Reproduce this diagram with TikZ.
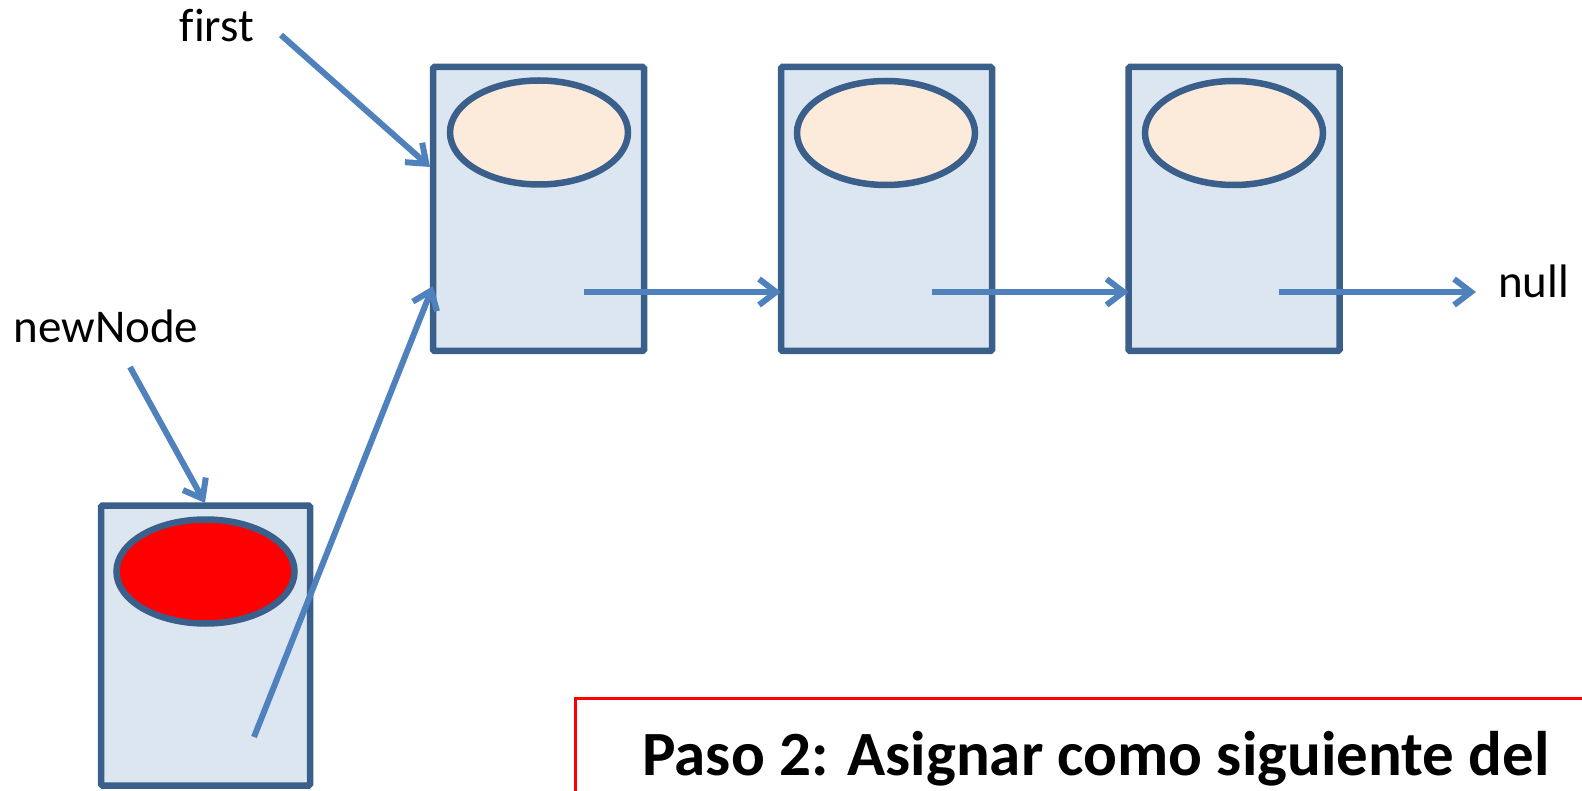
\documentclass[tikz,border=0pt]{standalone}
\usepackage{fontspec}
\setmainfont{Carlito}[Ligatures=NoCommon]
\usetikzlibrary{arrows.meta,shapes.geometric,calc}
\definecolor{boxline}{HTML}{3A5F8B}
\definecolor{boxfill}{HTML}{DCE6F1}
\definecolor{datafill}{HTML}{FCEADA}
\definecolor{arrowc}{HTML}{4F81BD}
\tikzset{
  listnode/.style={draw=boxline, fill=boxfill, line width=6.5pt, rounded corners=1.5pt,
    minimum width=211pt, minimum height=284pt, inner sep=0pt, outer sep=0pt},
  datafield/.style={ellipse, draw=boxline, fill=datafill, line width=6.5pt,
    minimum width=178pt, minimum height=104pt, inner sep=0pt, outer sep=0pt},
  label/.style={font=\fontsize{47}{55}\selectfont, inner sep=0pt},
  ptr/.style={draw=arrowc, line width=6pt, -{Straight Barb[length=17pt,width=26pt]}},
}
\begin{document}
\begin{tikzpicture}[x=1pt,y=-1pt]
\useasboundingbox (0,0) rectangle (1582,791);
% list nodes
\node[listnode] (b1) at (538.5,209) {};
\node[listnode] (b2) at (886.5,209) {};
\node[listnode] (b3) at (1234,209) {};
\node[listnode, minimum width=209pt, minimum height=280pt] (nb) at (205.5,645.5) {};
% data fields
\node[datafield] (d1) at (539,132.5) {};
\node[datafield] (d2) at (886,133) {};
\node[datafield] (d3) at (1234,133) {};
\node[datafield, fill=red] (dn) at (205.5,571.5) {};
% labels
\node[label, anchor=base] (first) at (217,42) {first};
\node[label, anchor=base] (newnode) at (106,343) {newNode};
\node[label, anchor=base west] (null) at (1498,298) {null};
% pointer coordinates
\coordinate (fs) at (281,35);
\coordinate (fe) at (430,167);
\coordinate (ns) at (130,367);
\coordinate (ne) at (205,503);
\coordinate (ls) at (254,737);
\coordinate (le) at (433,286);
\coordinate (p1) at (584,292);
\coordinate (p2) at (932,292);
\coordinate (p3) at (1279,292);
\coordinate (nl) at (1476,292);
% pointers
\draw[ptr] (fs) -- (fe);
\draw[ptr] (ns) -- (ne);
\draw[ptr] (ls) -- (le);
\draw[ptr] (p1) -- (b2.west |- p1);
\draw[ptr] (p2) -- (b3.west |- p2);
\draw[ptr] (p3) -- (nl);
% note box
\node[draw=red, line width=2.5pt, minimum width=1030pt, minimum height=130pt, anchor=north west, inner sep=0pt] (note) at (574,697) {};
\node[font=\bfseries\fontsize{63}{75}\selectfont, anchor=base, inner sep=0pt] (notetext) at (1096,775) {Paso 2: Asignar como siguiente del};
\end{tikzpicture}
\end{document}
